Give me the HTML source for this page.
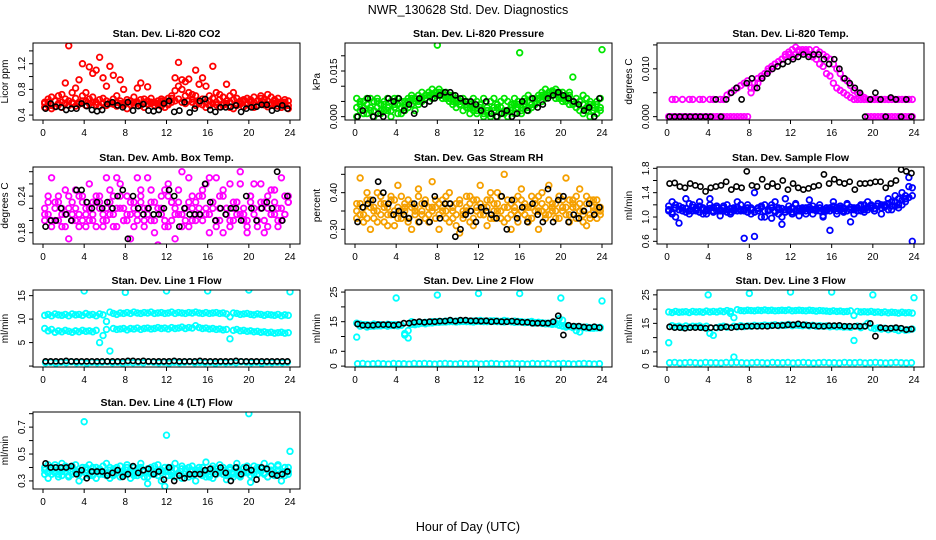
<!DOCTYPE html>
<html><head><meta charset="utf-8"><style>
body{margin:0;background:#fff;}
svg{display:block;font-family:"Liberation Sans",sans-serif;}
</style></head><body>
<svg id="chart" width="936" height="540" viewBox="0 0 936 540">
<rect width="936" height="540" fill="#fff"/>
<text x="468" y="14" text-anchor="middle" font-size="12.5">NWR_130628  Std. Dev. Diagnostics</text>
<text x="468" y="531" text-anchor="middle" font-size="12.5">Hour of Day (UTC)</text>
</svg>
<script>
const xTicks=[0,4,8,12,16,20,24];
// P1 CO2
const co2A=[0.52,0.55,0.5,0.53,0.56,0.52,0.58,0.55,0.6,0.54,0.57,0.62,0.55,0.58,0.6,0.56,0.54,0.58,0.55,0.6,0.57,0.54,0.58,0.55,0.5,0.56,0.6,0.58,0.55,0.52,0.57,0.6,0.55,0.58,0.54,0.52,0.56,0.6,0.62,0.65,0.6,0.58,0.62,0.6,0.55,0.58,0.56,0.52,0.55,0.58,0.56,0.53,0.55,0.58,0.52,0.5,0.55,0.57,0.53,0.56,0.54,0.52,0.55,0.58,0.56,0.53,0.55,0.58,0.54,0.52,0.55,0.5];
const co2B=[0.6,0.65,0.68,0.62,0.7,0.72,0.9,1.48,0.75,0.82,0.95,1.2,0.75,1.15,1.05,1.1,1.3,0.98,0.85,1.16,1.02,0.7,0.95,0.8,0.64,0.62,0.68,0.82,0.9,0.65,0.84,0.66,0.6,0.62,0.65,0.63,0.66,0.7,0.98,1.22,0.95,0.92,0.96,0.72,1.1,0.88,0.98,0.85,0.7,1.16,0.75,0.72,0.68,0.88,0.7,0.75,0.66,0.62,0.64,0.66,0.6,0.68,0.62,0.7,0.64,0.72,0.68,0.62,0.66,0.6,0.64,0.62];
const co2C=[0.58,0.6,0.55,0.62,0.58,0.6,0.65,0.62,0.58,0.66,0.6,0.7,0.62,0.65,0.68,0.6,0.64,0.66,0.62,0.58,0.65,0.6,0.62,0.58,0.6,0.62,0.56,0.6,0.64,0.6,0.62,0.58,0.6,0.56,0.62,0.6,0.58,0.66,0.78,0.85,0.8,0.7,0.75,0.65,0.7,0.62,0.65,0.6,0.62,0.66,0.6,0.64,0.58,0.62,0.6,0.64,0.58,0.6,0.62,0.58,0.64,0.6,0.62,0.66,0.6,0.62,0.58,0.64,0.6,0.58,0.6,0.55];
const co2Black=[0.5,0.58,0.53,0.52,0.48,0.5,0.5,0.58,0.54,0.48,0.46,0.48,0.57,0.6,0.55,0.52,0.6,0.47,0.54,0.57,0.47,0.46,0.48,0.58,0.62,0.45,0.47,0.6,0.44,0.5,0.62,0.65,0.48,0.45,0.52,0.52,0.53,0.55,0.45,0.5,0.52,0.53,0.56,0.56,0.47,0.5,0.55,0.5];
const co2Ticks=[0.4,0.6,0.8,1.0,1.2,1.4];
const co2Labels=['0.4','','0.8','','1.2',''];
// P2 pressure (x1e-3 kPa)
const presA=[0,2,5,1,6,0,3,1,5,2,0,6,4,1,5,3,6,2,4,5,6,7,7.5,8,8,7,6,7,5,6,4,5,3,4,2,1,3,0,2,1,3,0,1,2,0,3,1,4,2,5,3,6,4,6,5,7,8,8.5,8,7,6,5,7,4,3,5,1,2,0,3,1,2];
const presB=[6,5,3,6,2,5,6,4,2,6,5,3,6,5,3,6,7,5,7,8,6,8,9,7,9,8,8,6,7,5,4,6,5,3,6,5,4,6,2,5,6,3,5,6,2,4,6,5,3,6,7,4,6,7,8,9,7,8,9,6,8,7,8,13,6,5,7,6,4,2,5,6];
const presC=[3,4,1,4,3,2,5,2,4,3,2,4,1,3,2,5,4,6,5,6,7,8,6,8,7,6,7,5,4,3,5,2,4,1,3,2,4,1,3,0,2,4,3,1,5,2,4,3,1,4,2,3,5,6,7,6,8,7,6,8,5,6,4,5,3,2,4,3,5,2,4,3];
const presOutH=[8,16,24];
const presOutV=[23.5,21,22];
const presBlack=[0,2,6,0,1,0,6,5,6,2,4,1,6,4,5,6,7,8,8,7,6,5,5,4,2,5,1,0,1,2,0,1,5,2,6,3,4,6,7,8,7,6,5,4,2,3,0,6];
const presTicks=[0,5,10,15,20];
const presLabels=['0.000','','','0.015',''];
// P3 Li-820 temp (x1e-3)
const tempA=[0,0,0,0,0,0,0,0,0,0,0,0,0,0,0,0,0,0,0,0,0,0,0,0,5,6,7,8,9,9.5,10,11,11.5,12,12.5,13,12.5,13,13.5,14,13.5,14,13,14,13.5,13,12.5,12,11,10,9,8,7.5,6.5,5.5,5,4.5,4,0,0,0,0,0,0,0,0,0,0,0,0,0,0];
const tempB=[0,3.6,3.6,0,3.6,0,3.6,3.6,0,3.6,3.6,0,3.6,3.6,0,3.6,3.6,4.5,5,5.5,6,6.5,7,7.5,6,7,8,8.5,9,10,10.5,11,11.5,12,13,13.5,14,14.5,14,13.5,14,13,12.5,12,11,10.5,9,8.5,7,6,5.5,5,4.5,4,3.6,3.6,3.6,3.6,3.6,3.6,3.6,3.6,3.6,3.6,3.6,3.6,3.6,3.6,3.6,3.6,3.6,3.6];
const tempBlack=[0,0,0,0,0,0,0,0,0,3.6,0,3.6,5,6,3.6,7,8,6,8,9,10,10.5,11,11.5,12,12.5,13,12.5,13,13,12,11,12,10,8,7,6,5,0,3.6,5,3.6,0,4,3.6,0,3.6,0];
const tempTicks=[0,5,10,15];
const tempLabels=['0.000','','0.010',''];
// P4 amb box temp
const boxA=[0.22,0.21,0.27,0.2,0.23,0.19,0.25,0.17,0.21,0.22,0.24,0.2,0.19,0.26,0.21,0.23,0.24,0.2,0.22,0.25,0.19,0.27,0.22,0.2,0.24,0.21,0.19,0.27,0.23,0.2,0.22,0.25,0.18,0.22,0.24,0.2,0.26,0.23,0.17,0.21,0.28,0.22,0.19,0.24,0.2,0.22,0.25,0.21,0.27,0.23,0.2,0.24,0.18,0.22,0.26,0.2,0.23,0.28,0.21,0.19,0.24,0.22,0.2,0.26,0.23,0.19,0.25,0.21,0.22,0.2,0.24,0.23];
const boxB=[0.2,0.24,0.19,0.23,0.2,0.22,0.21,0.24,0.2,0.25,0.19,0.23,0.21,0.22,0.2,0.24,0.23,0.19,0.27,0.21,0.24,0.19,0.26,0.22,0.2,0.17,0.23,0.21,0.25,0.19,0.27,0.2,0.23,0.16,0.22,0.25,0.19,0.23,0.21,0.25,0.19,0.22,0.27,0.2,0.23,0.21,0.24,0.26,0.18,0.22,0.27,0.2,0.25,0.22,0.19,0.23,0.21,0.26,0.2,0.18,0.23,0.26,0.2,0.22,0.18,0.24,0.21,0.25,0.19,0.27,0.21,0.24];
const boxC=[0.21,0.23,0.2,0.22,0.24,0.21,0.19,0.22,0.23,0.2,0.21,0.24,0.22,0.2,0.23,0.19,0.22,0.21,0.2,0.23,0.21,0.22,0.24,0.2,0.21,0.23,0.22,0.2,0.24,0.22,0.21,0.23,0.2,0.22,0.21,0.19,0.24,0.2,0.22,0.23,0.21,0.2,0.23,0.22,0.21,0.24,0.2,0.22,0.21,0.23,0.19,0.22,0.24,0.21,0.2,0.22,0.23,0.21,0.22,0.2,0.24,0.21,0.19,0.23,0.2,0.22,0.21,0.23,0.2,0.22,0.21,0.23];
const boxBlack=[0.19,0.2,0.2,0.22,0.21,0.2,0.25,0.25,0.23,0.22,0.23,0.22,0.23,0.22,0.24,0.25,0.17,0.24,0.22,0.21,0.22,0.21,0.21,0.22,0.25,0.24,0.19,0.22,0.21,0.21,0.21,0.26,0.23,0.2,0.22,0.21,0.22,0.22,0.2,0.24,0.22,0.2,0.22,0.23,0.22,0.28,0.2,0.24];
const boxTicks=[0.18,0.20,0.22,0.24,0.26,0.28];
const boxLabels=['0.18','','','0.24','',''];
// P5 RH
const rhA=[0.35,0.44,0.32,0.38,0.3,0.36,0.4,0.34,0.37,0.31,0.39,0.35,0.42,0.33,0.36,0.38,0.3,0.35,0.41,0.34,0.37,0.32,0.43,0.36,0.3,0.38,0.35,0.4,0.33,0.37,0.29,0.35,0.39,0.32,0.38,0.36,0.42,0.34,0.31,0.38,0.35,0.4,0.33,0.45,0.36,0.3,0.38,0.34,0.41,0.36,0.32,0.39,0.35,0.3,0.37,0.34,0.42,0.36,0.33,0.39,0.35,0.44,0.32,0.38,0.36,0.41,0.34,0.31,0.38,0.35,0.33,0.36];
const rhB=[0.33,0.37,0.34,0.4,0.36,0.33,0.35,0.39,0.32,0.36,0.34,0.38,0.33,0.35,0.37,0.32,0.36,0.34,0.39,0.37,0.33,0.36,0.35,0.38,0.34,0.36,0.33,0.37,0.35,0.31,0.38,0.34,0.36,0.39,0.33,0.35,0.37,0.34,0.36,0.4,0.33,0.37,0.35,0.32,0.38,0.34,0.36,0.39,0.35,0.37,0.33,0.36,0.38,0.35,0.4,0.36,0.34,0.37,0.35,0.39,0.36,0.34,0.38,0.36,0.33,0.37,0.35,0.39,0.34,0.36,0.38,0.35];
const rhC=[0.37,0.34,0.36,0.33,0.38,0.35,0.32,0.37,0.36,0.34,0.38,0.31,0.36,0.39,0.35,0.33,0.37,0.36,0.32,0.35,0.38,0.34,0.36,0.33,0.37,0.35,0.39,0.32,0.36,0.34,0.37,0.33,0.35,0.37,0.31,0.38,0.34,0.36,0.38,0.33,0.37,0.35,0.39,0.36,0.33,0.37,0.35,0.32,0.38,0.34,0.36,0.33,0.37,0.39,0.35,0.33,0.38,0.35,0.37,0.33,0.38,0.36,0.34,0.37,0.39,0.35,0.32,0.37,0.33,0.38,0.36,0.34];
const rhBlack=[0.32,0.36,0.37,0.38,0.43,0.4,0.37,0.34,0.35,0.34,0.33,0.37,0.32,0.37,0.32,0.39,0.33,0.37,0.37,0.28,0.3,0.34,0.35,0.32,0.36,0.35,0.34,0.33,0.39,0.3,0.38,0.33,0.36,0.32,0.37,0.34,0.32,0.41,0.32,0.38,0.39,0.32,0.34,0.33,0.35,0.37,0.34,0.36];
const rhTicks=[0.30,0.35,0.40,0.45];
const rhLabels=['0.30','','0.40',''];
// P6 sample flow
const sfA=[1.18,1.05,1.2,1.12,1.15,1.08,1.22,1.1,1.15,1.18,1.05,1.12,1.2,1.08,1.15,1.1,1.18,1.12,1.05,1.15,1.1,1.2,1.12,1.08,1.15,1.4,1.1,1.18,1.0,1.12,1.2,1.08,1.15,1.0,1.12,1.18,1.08,1.22,1.1,1.15,1.05,1.12,1.18,1.1,1.15,1.02,1.12,0.78,1.18,1.1,1.15,1.08,1.2,1.12,1.05,1.15,1.1,1.2,1.12,1.18,1.1,1.22,1.15,1.2,1.12,1.25,1.18,1.3,1.2,1.35,1.65,1.48];
const sfB=[1.1,1.25,1.0,0.9,1.15,1.3,1.05,1.2,1.1,1.25,1.12,1.05,1.3,1.1,1.18,1.02,1.1,1.2,1.08,1.12,1.25,1.1,0.65,1.2,1.05,0.68,1.15,1.0,1.2,1.1,0.98,1.25,1.05,0.88,1.3,1.1,1.05,1.2,1.02,1.1,1.15,1.28,1.05,1.12,1.2,1.0,1.1,1.15,1.25,1.05,1.18,1.1,1.22,0.92,1.15,1.1,1.2,1.08,1.25,1.15,1.1,1.22,1.05,1.18,1.3,1.12,1.35,1.15,1.4,1.25,1.5,0.6];
const sfC=[1.12,1.08,1.15,1.18,1.1,1.14,1.1,1.16,1.12,1.08,1.15,1.1,1.14,1.16,1.1,1.12,1.15,1.08,1.14,1.1,1.16,1.12,1.1,1.15,1.12,1.08,1.14,1.16,1.1,1.12,1.15,1.1,1.12,1.14,1.08,1.12,1.15,1.1,1.14,1.12,1.1,1.16,1.12,1.14,1.1,1.12,1.15,1.1,1.12,1.16,1.12,1.14,1.1,1.16,1.12,1.15,1.18,1.12,1.16,1.2,1.14,1.18,1.2,1.16,1.22,1.18,1.25,1.2,1.28,1.3,1.32,1.35];
const sfBlack=[1.55,1.56,1.5,1.48,1.55,1.52,1.5,1.42,1.48,1.5,1.52,1.58,1.45,1.5,1.48,1.75,1.52,1.5,1.62,1.5,1.55,1.5,1.6,1.45,1.55,1.48,1.45,1.47,1.5,1.52,1.7,1.55,1.62,1.57,1.55,1.58,1.45,1.55,1.55,1.56,1.58,1.58,1.48,1.55,1.6,1.78,1.75,1.72];
const sfTicks=[0.6,0.8,1.0,1.2,1.4,1.6,1.8];
const sfLabels=['0.6','','1.0','','1.4','','1.8'];
// P7 line 1 flow
const l1A=[10.8,11,10.7,11.1,10.9,10.8,11,10.7,11.1,10.9,11,10.8,11.2,10.9,11,10.7,11.1,10.9,9.5,11.5,11.2,11,11.3,11.2,11.4,11.2,11.5,11.3,11.2,11.4,11.3,11.5,11.2,11.3,11.4,11.2,11.3,11.5,11.2,11.4,11.3,11.2,11.4,11.3,11.5,11.3,11.2,11.4,11.2,11.3,11.4,11.2,11.3,11.1,10.5,11.3,11.2,11,11.1,11.2,11,10.9,11.1,11,10.8,11,10.9,10.8,11,10.7,10.9,10.8];
const l1B=[8,7.5,7.8,7.2,7.5,7.3,7.6,7.4,7.2,7.5,7.3,7.6,7.4,7.5,7.3,7.6,5,6.5,7.8,3.2,8,7.8,7.9,8,7.7,8,7.9,8.1,7.8,8,8.1,7.9,8,8.2,8,8.1,7.9,8.2,8,8.1,8.3,8,8.2,8.1,8.6,8.2,8,8.1,7.9,8,7.8,7.9,7.7,7.8,5.8,7.6,7.8,7.5,7.6,7.4,7.5,7.3,7.4,7.2,7.3,7.1,7.2,7,7.1,7.2,7,7.1];
const l1C=[0.7,0.8,0.6,0.8,0.7,0.9,0.7,0.8,0.6,0.8,0.7,0.8,0.9,0.7,0.8,0.6,0.8,0.7,0.8,0.7,0.9,0.8,0.7,0.8,0.6,0.8,0.7,0.8,0.9,0.7,0.8,0.7,0.8,0.6,0.8,0.7,0.8,0.7,0.9,0.8,0.7,0.8,0.6,0.8,0.7,0.8,0.7,0.8];
const l1OutH=[4,8,12,16,20,24];
const l1OutV=[16,15.7,16,16,16.2,15.8];
const l1Black=[1,1,1,1,1.1,1,1,1,1,1,1,1,1,1,1,1,1.1,1.1,1,1.1,1,1,1,1,1,1.1,1,1,1,1,1.1,1,1,1,1,1,1,1.1,1,1,1,1,1,1,1,1,1,1];
const l1Ticks=[0,5,10,15];
const l1Labels=['','5','10','15'];
// P8 line 2 flow
const l2A=[14.5,13.5,14,13.2,13.8,13.5,14,13.6,13.8,13.5,14,13.7,14,13.8,10.5,9.5,15,14,14.2,14.5,14.3,14.8,14.6,15,14.8,15,14.9,15.1,15,15.2,15,15.1,15.3,15,15.2,15.1,15.4,15.2,15,15.3,15.1,15.2,15,15.4,15.1,15,15.2,14.9,15,14.8,14.9,15.1,14.7,14.8,14.6,14.5,14.3,14.5,14.2,16,13.5,13.6,13.4,13.2,12,13.3,13,13.2,12.8,13,12.9,13.1];
const l2B=[9.8,14.2,13.8,14,13.5,14.2,13.6,14,13.8,14.1,13.7,14,13.6,13.9,11,12,14.1,14.5,14.3,14.6,14.8,14.6,15,14.8,15.1,14.9,15.2,15,15.1,14.9,15.3,15.1,15,15.2,14.9,15.3,15.1,15,15.2,15.1,15.3,15,15.1,14.9,15.2,15,14.8,15.1,14.9,14.7,14.8,14.6,14.5,14.7,14.4,14.3,14.5,14.1,14.2,13.8,15.5,13.2,13.4,13,13.3,11.5,13.1,12.9,13,12.8,13,12.9];
const l2C=[0.8,0.9,0.7,0.8,0.9,0.8,0.7,0.9,0.8,0.8,0.7,0.9,0.8,0.9,0.8,0.7,0.8,0.9,0.8,0.7,0.9,0.8,0.8,0.9,0.7,0.8,0.9,0.8,0.7,0.8,0.9,0.8,0.8,0.7,0.9,0.8,0.8,0.9,0.7,0.8,0.9,0.8,0.7,0.8,0.9,0.8,0.7,0.8];
const l2OutH=[4,8,12,16,20,24];
const l2OutV=[23,24,24.5,24.5,23,22];
const l2Black=[14.2,13.8,13.8,13.8,14,14,14,13.8,14,14.5,14.5,14.8,15,14.8,15,15,15.2,15.2,15.5,15.2,15.5,15.5,15.3,15.3,15.2,15.3,15,15.2,15,15,15.2,15,14.8,14.8,14.5,14.5,14.5,14.5,15,17,10.5,13.8,13.5,13.5,13.2,13,13.3,13];
const l2Ticks=[0,5,10,15,20,25];
const l2Labels=['0','5','','15','','25'];
// P9 line 3 flow
const l3A=[19,18.8,19.2,18.9,19,19.1,18.8,19.2,19,19.1,18.9,19.3,19,19.2,19,19.3,19.1,19.5,19.2,17,19.8,19.5,19.4,19.6,19.5,19.4,19.6,19.5,19.7,19.5,19.6,19.4,19.5,19.6,19.5,19.7,19.4,19.5,19.6,19.5,19.4,19.6,19.5,19.3,19.5,19.4,19.3,19.2,19.4,19.2,19.3,19.1,19.2,19.4,17.8,19.2,19,19.1,19,19.2,18.9,19,18.8,19,18.7,18.9,18.8,18.6,18.9,18.7,18.8,18.6];
const l3B=[8.2,14.2,13.8,14,13.6,14.1,13.7,14,13.9,14.1,13.6,14,11.5,10.8,13.5,13.8,14,13.7,18.5,14,13.8,14.2,13.9,14.1,14,14.3,14.1,14.2,14.4,14.2,14.3,14.5,14.2,14.4,14.3,14.6,14.2,14.4,14.3,14.2,14.4,14.1,14.3,14,14.2,14,14.1,13.8,14,13.8,13.9,13.7,13.8,13.6,9,14,13.5,14,15,13.5,13.2,13.4,13,13.3,12.8,13.2,12.9,12.5,13,12.6,12.8,13];
const l3C=[1.2,1.3,1.1,1.2,1.3,1.2,1.1,1.3,1.2,1.2,1.1,1.3,1.2,1.3,1.2,1.1,1.2,1.3,1.2,1.1,1.3,1.2,1.2,1.3,1.1,1.2,1.3,1.2,1.1,1.2,1.3,1.2,1.2,1.1,1.3,1.2,1.2,1.3,1.1,1.2,1.3,1.2,1.1,1.2,1.3,1.2,1.1,1.2];
const l3OutH=[4,8,12,16,20,24,6.5];
const l3OutV=[25,25.5,26,26,25,24,3.2];
const l3Black=[13.8,13.5,13.5,13.3,13.5,13.5,13.5,13.3,13.5,13.5,13.5,13.8,13.5,13.8,13.8,14,14,14,14,14,14.2,14.2,14.3,14.5,14.5,14.8,14.5,14.3,14.2,14,14,14.2,14.2,14.3,14,14,14,14,14,15,10.5,13.5,13.3,13.3,13.5,13.3,12.8,13];
const l3Ticks=[0,5,10,15,20,25];
const l3Labels=['0','5','','15','','25'];
// P10 line 4 flow
const l4A=[0.38,0.42,0.35,0.4,0.33,0.43,0.37,0.4,0.35,0.42,0.3,0.38,0.36,0.42,0.34,0.4,0.37,0.35,0.43,0.32,0.39,0.36,0.41,0.34,0.38,0.32,0.4,0.36,0.43,0.33,0.28,0.38,0.35,0.42,0.3,0.37,0.4,0.34,0.43,0.36,0.32,0.39,0.35,0.41,0.3,0.38,0.36,0.44,0.33,0.39,0.37,0.42,0.35,0.31,0.39,0.36,0.43,0.34,0.4,0.37,0.29,0.41,0.35,0.39,0.43,0.33,0.38,0.36,0.42,0.3,0.37,0.4];
const l4B=[0.35,0.32,0.4,0.36,0.38,0.34,0.41,0.33,0.39,0.36,0.37,0.33,0.4,0.35,0.37,0.32,0.39,0.36,0.34,0.4,0.35,0.38,0.33,0.37,0.4,0.36,0.34,0.39,0.35,0.37,0.33,0.4,0.36,0.34,0.38,0.26,0.37,0.4,0.33,0.36,0.39,0.35,0.33,0.38,0.36,0.4,0.34,0.37,0.35,0.32,0.39,0.36,0.38,0.34,0.4,0.35,0.37,0.33,0.39,0.36,0.34,0.38,0.35,0.4,0.36,0.33,0.38,0.35,0.41,0.36,0.34,0.37];
const l4C=[0.4,0.36,0.38,0.42,0.35,0.37,0.39,0.34,0.41,0.37,0.35,0.4,0.38,0.34,0.4,0.37,0.35,0.41,0.36,0.38,0.34,0.4,0.37,0.35,0.42,0.38,0.36,0.34,0.4,0.37,0.39,0.35,0.41,0.38,0.36,0.4,0.34,0.37,0.39,0.35,0.41,0.37,0.4,0.34,0.38,0.36,0.4,0.33,0.38,0.41,0.35,0.37,0.4,0.36,0.38,0.33,0.4,0.37,0.36,0.41,0.38,0.35,0.4,0.37,0.35,0.38,0.41,0.34,0.38,0.36,0.4,0.35];
const l4OutH=[4,12,20,24];
const l4OutV=[0.74,0.64,0.8,0.52];
const l4Black=[0.43,0.4,0.4,0.4,0.4,0.41,0.35,0.38,0.32,0.37,0.37,0.37,0.34,0.36,0.38,0.33,0.35,0.41,0.36,0.38,0.39,0.35,0.37,0.31,0.4,0.3,0.34,0.32,0.35,0.35,0.35,0.38,0.39,0.35,0.4,0.36,0.3,0.4,0.35,0.4,0.38,0.31,0.4,0.39,0.35,0.34,0.35,0.37];
const l4Ticks=[0.3,0.4,0.5,0.6,0.7,0.8];
const l4Labels=['0.3','','0.5','','0.7',''];

const panels=[
 {id:'co2',title:'Stan. Dev. Li-820 CO2',yl:'Licor ppm',col:0,row:0,dom:[0.323,1.523],color:'#ff0000',series:[co2A,co2B,co2C],black:co2Black,ticks:co2Ticks,labels:co2Labels},
 {id:'pressure',title:'Stan. Dev. Li-820 Pressure',yl:'kPa',col:1,row:0,dom:[-1.1,24.2],color:'#00e600',series:[presA,presB,presC],outH:presOutH,outV:presOutV,black:presBlack,ticks:presTicks,labels:presLabels},
 {id:'licor-temp',title:'Stan. Dev. Li-820 Temp.',yl:'degrees C',col:2,row:0,dom:[-0.7,15.4],color:'#ff00ff',series:[tempA,tempB],black:tempBlack,ticks:tempTicks,labels:tempLabels},
 {id:'box-temp',title:'Stan. Dev. Amb. Box Temp.',yl:'degrees C',col:0,row:1,dom:[0.1615,0.2877],color:'#ff00ff',series:[boxA,boxB,boxC],black:boxBlack,ticks:boxTicks,labels:boxLabels},
 {id:'rh',title:'Stan. Dev. Gas Stream RH',yl:'percent',col:1,row:1,dom:[0.26,0.47],color:'#f5a000',series:[rhA,rhB,rhC],black:rhBlack,ticks:rhTicks,labels:rhLabels},
 {id:'sample-flow',title:'Stan. Dev. Sample Flow',yl:'ml/min',col:2,row:1,dom:[0.556,1.822],color:'#0000ff',series:[sfA,sfB,sfC],black:sfBlack,ticks:sfTicks,labels:sfLabels},
 {id:'line1-flow',title:'Stan. Dev. Line 1 Flow',yl:'ml/min',col:0,row:2,dom:[-0.2,16.2],color:'#00ffff',series:[l1A,l1B,l1C],outH:l1OutH,outV:l1OutV,black:l1Black,ticks:l1Ticks,labels:l1Labels},
 {id:'line2-flow',title:'Stan. Dev. Line 2 Flow',yl:'ml/min',col:1,row:2,dom:[-0.3,25.7],color:'#00ffff',series:[l2A,l2B,l2C],outH:l2OutH,outV:l2OutV,black:l2Black,ticks:l2Ticks,labels:l2Labels},
 {id:'line3-flow',title:'Stan. Dev. Line 3 Flow',yl:'ml/min',col:2,row:2,dom:[-0.3,26.7],color:'#00ffff',series:[l3A,l3B,l3C],outH:l3OutH,outV:l3OutV,black:l3Black,ticks:l3Ticks,labels:l3Labels},
 {id:'line4-flow',title:'Stan. Dev. Line 4 (LT) Flow',yl:'ml/min',col:0,row:3,dom:[0.24,0.8125],color:'#00ffff',series:[l4A,l4B,l4C],outH:l4OutH,outV:l4OutV,black:l4Black,ticks:l4Ticks,labels:l4Labels}
];
const rowY=[43,167,290,412];
const NS='http://www.w3.org/2000/svg';
const svg=document.getElementById('chart');
function mk(tag,attrs,parent){const e=document.createElementNS(NS,tag);for(const k in attrs)e.setAttribute(k,attrs[k]);parent.appendChild(e);return e;}
panels.forEach(p=>{
  const x0=33+312*p.col, y0=rowY[p.row], W=267, H=77;
  const g=mk('g',{},svg);
  
  
  const xs=h=>x0+10+h*(247/24);
  const ys=v=>y0+H-(v-p.dom[0])/(p.dom[1]-p.dom[0])*H;
  const clip='clip-'+p.id;
  const cp=mk('clipPath',{id:clip},g);mk('rect',{x:x0,y:y0,width:W,height:H},cp);
  const pts=mk('g',{'clip-path':'url(#'+clip+')'},g);
  
  
  p.series.forEach(arr=>{arr.forEach((v,i)=>{
    const c=mk('circle',{cx:xs((i+0.5)*24/arr.length),cy:ys(v),r:2.8,fill:'none',stroke:p.color,'stroke-width':1.8},pts);
    
    
  });});
  if(p.outH){p.outH.forEach((h,i)=>{
    const c=mk('circle',{cx:xs(h),cy:ys(p.outV[i]),r:2.8,fill:'none',stroke:p.color,'stroke-width':1.8},pts);
    
    
  });}
  p.black.forEach((v,i)=>{
    const c=mk('circle',{cx:xs((i+0.5)*0.5),cy:ys(v),r:2.6,fill:'none',stroke:'#000','stroke-width':1.6},pts);
    
    
  });
  const box=mk('rect',{x:x0,y:y0,width:W,height:H,fill:'none',stroke:'#000','stroke-width':1},g);
  
  
  const t=mk('text',{x:x0+W/2,y:y0-6,'text-anchor':'middle','font-size':10.5,'font-weight':'bold'},g);
  t.textContent=p.title;
  
  
  const yt=mk('text',{transform:'translate('+(x0-25)+','+(y0+H/2)+') rotate(-90)','text-anchor':'middle','font-size':10},g);
  yt.textContent=p.yl;
  
  
  mk('line',{x1:xs(0),x2:xs(24),y1:y0+H,y2:y0+H,stroke:'#000'},g);
  xTicks.forEach(h=>{
    mk('line',{x1:xs(h),x2:xs(h),y1:y0+H,y2:y0+H+4,stroke:'#000'},g);
    const l=mk('text',{x:xs(h),y:y0+H+16,'text-anchor':'middle','font-size':10},g);
    l.textContent=String(h);
    
    
  });
  mk('line',{x1:x0,x2:x0,y1:ys(p.ticks[0]),y2:ys(p.ticks[p.ticks.length-1]),stroke:'#000'},g);
  p.ticks.forEach((v,i)=>{
    const y=ys(v);
    mk('line',{x1:x0-4,x2:x0,y1:y,y2:y,stroke:'#000'},g);
    if(p.labels[i]){
      const l=mk('text',{transform:'translate('+(x0-8)+','+y+') rotate(-90)','text-anchor':'middle','font-size':10},g);
      l.textContent=p.labels[i];
      
      
    }
  });
});
</script>
</body></html>
